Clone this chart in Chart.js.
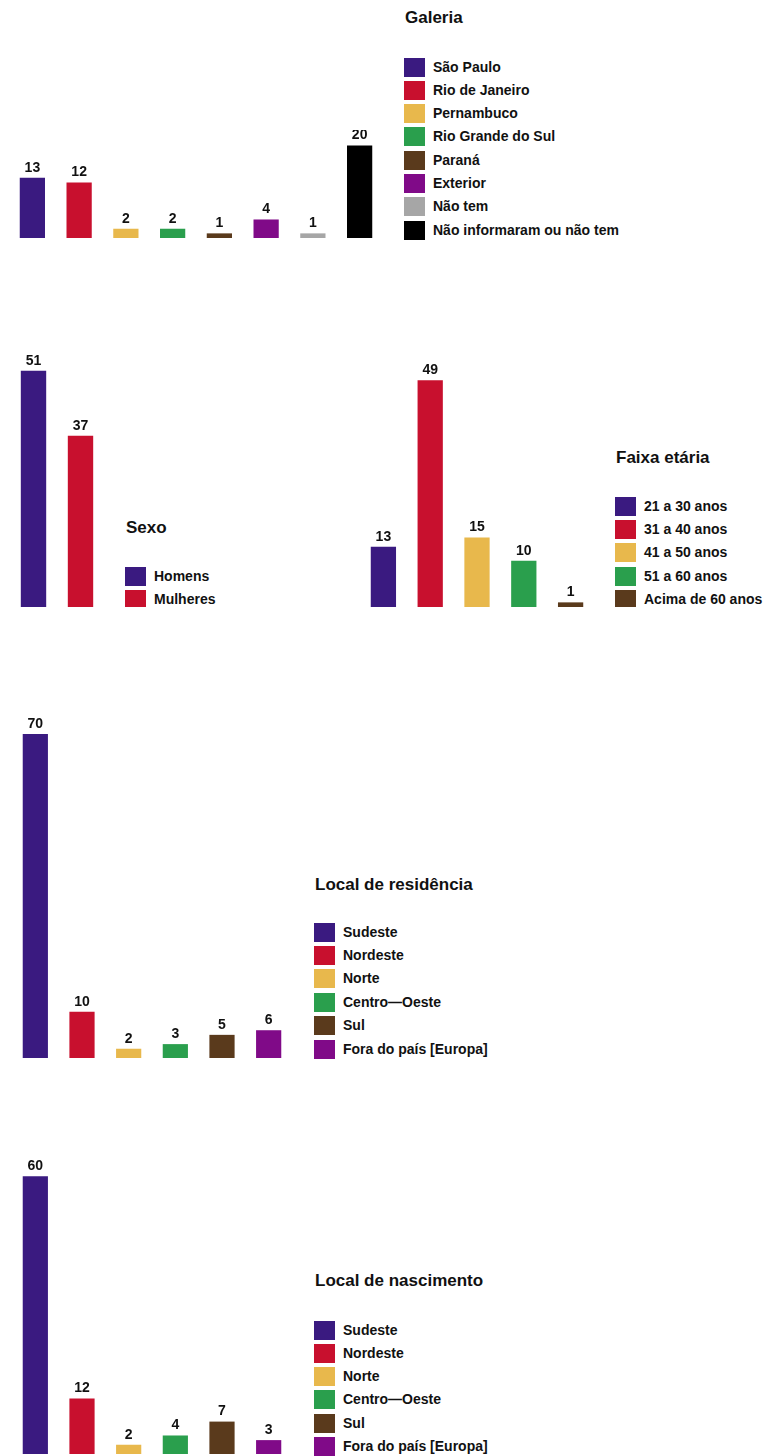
<!DOCTYPE html>
<html>
<head>
<meta charset="utf-8">
<script src="https://cdn.jsdelivr.net/npm/chart.js@4"></script>
<style>
  body { margin: 0; background: #fff; font-family: "Liberation Sans", Arial, sans-serif; }
  #page { position: relative; width: 770px; height: 1456px; overflow: hidden; }
  canvas { position: absolute; }
  .clip { position: absolute; left: 0; width: 770px; overflow: hidden; }
  .title { position: absolute; font-weight: bold; font-size: 17px; color: #111; line-height: 20px; white-space: nowrap; }
  .item { position: absolute; height: 19px; white-space: nowrap; }
  .item span.sq { position: absolute; left: 0; top: 0; width: 21px; height: 19px; }
  .item span.tx { position: absolute; left: 29px; top: 0; line-height: 19px; font-weight: bold; font-size: 14px; color: #111; }
</style>
</head>
<body>
<div id="page">
  <canvas id="galeria" width="374" height="108" style="left:9px;top:130px"></canvas>
  <div class="clip" style="top:340px;height:267px">
    <canvas id="sexo" width="94" height="252" style="left:10px;top:15px"></canvas>
    <canvas id="faixa" width="234" height="252" style="left:360px;top:15px"></canvas>
  </div>
  <canvas id="residencia" width="280" height="343" style="left:12px;top:715px"></canvas>
  <canvas id="nascimento" width="280" height="296" style="left:12px;top:1158px"></canvas>
</div>
<script>
// dados
galeriaLabels = ['São Paulo', 'Rio de Janeiro', 'Pernambuco', 'Rio Grande do Sul', 'Paraná', 'Exterior', 'Não tem', 'Não informaram ou não tem']
galeriaValues = [13, 12, 2, 2, 1, 4, 1, 20]

sexoLabels = ['Homens', 'Mulheres']
sexoValues = [51, 37]

faixaLabels = ['21 a 30 anos', '31 a 40 anos', '41 a 50 anos', '51 a 60 anos', 'Acima de 60 anos']
faixaValues = [13, 49, 15, 10, 1]

regiaoLabels = ['Sudeste', 'Nordeste', 'Norte', 'Centro—Oeste', 'Sul', 'Fora do país [Europa]']
residenciaValues = [70, 10, 2, 3, 5, 6]
nascimentoValues = [60, 12, 2, 4, 7, 3]

cores = ['#3a1a80', '#c8102e', '#e8b84c', '#2a9f4d', '#5a3a1c', '#800a88', '#a6a6a6', '#000000']

// 4.63 px por unidade em todos os graficos
pxPorUnidade = 4.63

valueLabels = {
    id: 'valueLabels',
    afterDatasetsDraw(chart) {
        ctx = chart.ctx
        meta = chart.getDatasetMeta(0)
        ctx.save()
        ctx.font = 'bold 14px "Liberation Sans"'
        ctx.fillStyle = '#111'
        ctx.textAlign = 'center'
        ctx.textBaseline = 'bottom'
        meta.data.forEach(function (bar, i) {
            ctx.fillText(chart.data.datasets[0].data[i], bar.x, bar.y - 3)
        })
        ctx.restore()
    }
}

function grafico(id, labels, values) {
    canvas = document.getElementById(id)
    new Chart(canvas, {
        type: 'bar',
        data: {
            labels: labels,
            datasets: [{
                data: values,
                backgroundColor: cores.slice(0, values.length),
                borderWidth: 0,
                barPercentage: 0.54,
                categoryPercentage: 1
            }]
        },
        options: {
            responsive: false,
            animation: false,
            devicePixelRatio: 1,
            layout: { padding: 0 },
            plugins: { legend: { display: false }, tooltip: { enabled: false } },
            scales: {
                x: { display: false },
                y: { display: false, min: 0, max: canvas.height / pxPorUnidade }
            }
        },
        plugins: [valueLabels]
    })
}

function legenda(parent, titulo, x, tituloY, labels, primeiroY, passo) {
    el = document.createElement('div')
    el.className = 'title'
    el.textContent = titulo
    el.style.left = x + 'px'
    el.style.top = (tituloY - 10) + 'px'
    parent.appendChild(el)
    for (var i in labels) {
        it = document.createElement('div')
        it.className = 'item'
        it.style.left = (x - 1) + 'px'
        it.style.top = (primeiroY + i * passo - 9.5) + 'px'
        it.innerHTML = '<span class="sq" style="background:' + cores[i] + '"></span><span class="tx"></span>'
        it.querySelector('.tx').textContent = labels[i]
        parent.appendChild(it)
    }
}

grafico('galeria', galeriaLabels, galeriaValues)
grafico('sexo', sexoLabels, sexoValues)
grafico('faixa', faixaLabels, faixaValues)
grafico('residencia', regiaoLabels, residenciaValues)
grafico('nascimento', regiaoLabels, nascimentoValues)

page = document.getElementById('page')
clip = document.querySelector('.clip')
legenda(page, 'Galeria', 405, 18, galeriaLabels, 67, 23.33)
legenda(clip, 'Sexo', 126, 528 - 340, sexoLabels, 576.5 - 340, 23)
legenda(clip, 'Faixa etária', 616, 458 - 340, faixaLabels, 506 - 340, 23.4)
legenda(page, 'Local de residência', 315, 885, regiaoLabels, 932, 23.4)
legenda(page, 'Local de nascimento', 315, 1281, regiaoLabels, 1330, 23.33)
</script>
</body>
</html>
